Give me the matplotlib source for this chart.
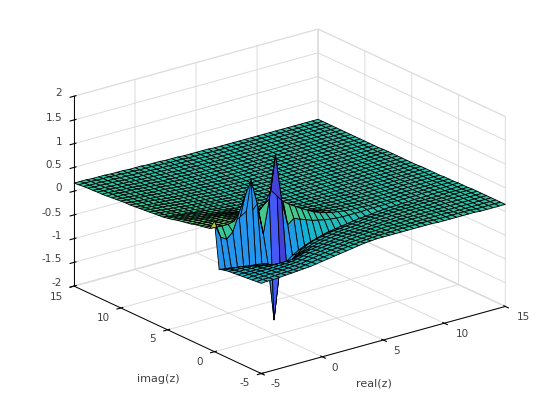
import numpy as np
import matplotlib
matplotlib.use('Agg')
import matplotlib.pyplot as plt
from matplotlib.colors import LinearSegmentedColormap, Normalize

plt.rcParams['axes.unicode_minus'] = False
plt.rcParams['font.family'] = 'DejaVu Sans'

# grid of the surface, step 0.5
x_vals = [-5.0, -4.5, -4.0, -3.5, -3.0, -2.5, -2.0, -1.5, -1.0, -0.5, 0.0, 0.5, 1.0, 1.5, 2.0, 2.5, 3.0, 3.5, 4.0, 4.5, 5.0,
          5.5, 6.0, 6.5, 7.0, 7.5, 8.0, 8.5, 9.0, 9.5, 10.0, 10.5, 11.0, 11.5, 12.0, 12.5, 13.0, 13.5, 14.0, 14.5, 15.0]
y_vals = x_vals

# one row per y value (-5 ... 15)
z_rows = [
    [-.10, -.09, -.09, -.08, -.07, -.06, -.05, -.04, -.03, -.01, .01, .03, .05, .07, .09, .11, .13, .15, .16, .17, .17, .17, .17, .17, .17, .17, .17, .17, .17, .16, .16, .16, .16, .16, .16, .16, .15, .15, .15, .15, .15],
    [-.11, -.10, -.10, -.09, -.08, -.08, -.07, -.06, -.04, -.02, .00, .02, .04, .06, .08, .10, .11, .13, .14, .15, .16, .16, .16, .17, .17, .17, .17, .17, .17, .16, .16, .16, .16, .16, .16, .16, .15, .15, .15, .15, .15],
    [-.12, -.11, -.11, -.10, -.10, -.09, -.08, -.07, -.06, -.04, -.01, .01, .03, .05, .06, .08, .10, .11, .12, .13, .14, .15, .15, .16, .16, .16, .16, .16, .16, .16, .16, .16, .16, .15, .15, .15, .15, .15, .15, .15, .15],
    [-.13, -.12, -.12, -.12, -.11, -.11, -.10, -.09, -.08, -.06, -.03, -.01, .01, .03, .05, .06, .08, .09, .11, .12, .13, .13, .14, .15, .15, .15, .16, .16, .16, .16, .16, .16, .15, .15, .15, .15, .15, .15, .15, .15, .15],
    [-.14, -.13, -.13, -.13, -.13, -.13, -.12, -.12, -.11, -.09, -.06, -.03, -.01, .01, .03, .05, .06, .08, .09, .10, .11, .12, .13, .14, .14, .15, .15, .15, .15, .15, .15, .15, .15, .15, .15, .15, .15, .15, .15, .15, .15],
    [-.15, -.15, -.15, -.15, -.15, -.15, -.15, -.15, -.15, -.14, -.11, -.07, -.04, -.02, .00, .02, .04, .06, .07, .08, .09, .10, .11, .12, .13, .13, .14, .14, .14, .15, .15, .15, .15, .15, .15, .15, .15, .15, .15, .15, .15],
    [-.16, -.16, -.16, -.17, -.17, -.18, -.20, -.22, -.25, -.24, -.20, -.15, -.10, -.06, -.03, .00, .02, .04, .05, .06, .07, .08, .10, .11, .12, .12, .13, .13, .14, .14, .14, .14, .14, .15, .15, .15, .15, .15, .15, .15, .15],
    [-.17, -.18, -.18, -.19, -.20, -.22, -.25, -.29, -.35, -.40, -.33, -.25, -.18, -.12, -.07, -.04, -.01, .01, .03, .04, .05, .06, .08, .09, .10, .11, .12, .12, .13, .13, .13, .14, .14, .14, .14, .14, .14, .15, .15, .15, .15],
    [-.19, -.20, -.21, -.22, -.24, -.27, -.31, -.37, -.45, -.62, -.50, -.38, -.27, -.19, -.12, -.08, -.05, -.02, .00, .01, .03, .04, .05, .07, .08, .09, .10, .11, .11, .12, .12, .12, .13, .13, .13, .13, .14, .14, .14, .14, .14],
    [-.22, -.24, -.26, -.28, -.30, -.32, -.33, -.35, -.38, -1.60, -.50, -.45, -.35, -.28, -.22, -.17, -.13, -.09, -.06, -.04, -.02, .00, .02, .04, .05, .06, .08, .09, .10, .10, .11, .11, .12, .12, .12, .13, .13, .13, .13, .14, .14],
    [.75, .38, .30, .42, .77, 1.10, 1.39, .87, .20, .90, 1.80, .80, .25, .35, .30, .25, .20, .17, .14, .12, .11, .10, .10, .10, .10, .11, .11, .11, .11, .12, .12, .12, .12, .12, .13, .13, .13, .13, .13, .14, .14],
    [.55, .54, .53, .53, .56, .62, .70, .68, .62, .75, 1.00, .85, .70, .60, .52, .44, .37, .30, .25, .21, .18, .16, .14, .13, .12, .12, .11, .11, .11, .11, .11, .12, .12, .12, .12, .12, .13, .13, .13, .13, .13],
    [.53, .52, .51, .50, .50, .52, .55, .55, .55, .58, .65, .62, .56, .50, .45, .39, .33, .28, .23, .20, .17, .15, .14, .13, .12, .12, .11, .11, .11, .11, .11, .11, .12, .12, .12, .12, .12, .12, .13, .13, .13],
    [.51, .50, .49, .48, .48, .48, .48, .48, .48, .48, .50, .48, .45, .41, .37, .33, .28, .24, .20, .17, .15, .14, .13, .12, .12, .11, .11, .11, .11, .11, .11, .11, .11, .12, .12, .12, .12, .12, .12, .12, .13],
    [.49, .48, .47, .46, .45, .45, .44, .44, .43, .43, .42, .40, .38, .34, .31, .27, .23, .20, .17, .15, .14, .13, .12, .12, .11, .11, .11, .11, .11, .11, .11, .11, .11, .11, .12, .12, .12, .12, .12, .12, .12],
    [.46, .45, .44, .43, .43, .42, .41, .40, .39, .38, .37, .35, .32, .29, .26, .23, .20, .18, .16, .14, .13, .12, .12, .11, .11, .11, .11, .11, .11, .11, .11, .11, .11, .11, .11, .12, .12, .12, .12, .12, .12],
    [.44, .43, .42, .41, .40, .39, .38, .36, .35, .33, .31, .28, .26, .23, .21, .19, .17, .15, .14, .13, .12, .12, .11, .11, .11, .11, .10, .10, .11, .11, .11, .11, .11, .11, .11, .11, .12, .12, .12, .12, .12],
    [.42, .41, .40, .38, .37, .36, .34, .33, .31, .29, .27, .24, .22, .20, .18, .17, .15, .14, .13, .12, .11, .11, .11, .11, .10, .10, .10, .10, .10, .11, .11, .11, .11, .11, .11, .11, .11, .11, .12, .12, .12],
    [.40, .39, .37, .36, .34, .33, .31, .29, .27, .25, .23, .21, .19, .17, .16, .15, .14, .13, .12, .11, .11, .11, .10, .10, .10, .10, .10, .10, .10, .10, .11, .11, .11, .11, .11, .11, .11, .11, .11, .12, .12],
    [.37, .36, .35, .33, .32, .30, .28, .26, .24, .23, .21, .19, .17, .16, .15, .14, .13, .12, .11, .11, .10, .10, .10, .10, .10, .10, .10, .10, .10, .10, .10, .11, .11, .11, .11, .11, .11, .11, .11, .11, .11],
    [.35, .34, .33, .31, .30, .28, .26, .24, .23, .21, .19, .17, .16, .15, .14, .13, .12, .11, .11, .10, .10, .10, .10, .10, .10, .10, .10, .10, .10, .10, .10, .10, .11, .11, .11, .11, .11, .11, .11, .11, .11],
    [.33, .31, .30, .28, .27, .25, .24, .22, .21, .19, .18, .17, .15, .14, .13, .12, .12, .11, .10, .10, .10, .10, .10, .10, .10, .10, .10, .10, .10, .10, .10, .10, .10, .11, .11, .11, .11, .11, .11, .11, .11],
    [.32, .30, .29, .27, .26, .24, .23, .21, .20, .19, .17, .16, .15, .14, .13, .12, .11, .11, .10, .10, .10, .10, .10, .10, .10, .10, .10, .10, .10, .10, .10, .10, .10, .10, .11, .11, .11, .11, .11, .11, .11],
    [.31, .29, .28, .26, .25, .24, .22, .21, .20, .18, .17, .16, .15, .14, .13, .12, .11, .11, .10, .10, .10, .10, .10, .10, .10, .10, .10, .10, .10, .10, .10, .10, .10, .10, .10, .11, .11, .11, .11, .11, .11],
    [.30, .28, .27, .25, .24, .23, .21, .20, .19, .18, .16, .15, .14, .13, .13, .12, .11, .11, .10, .10, .10, .10, .10, .10, .10, .10, .10, .10, .10, .10, .10, .10, .10, .10, .10, .10, .11, .11, .11, .11, .11],
    [.29, .27, .26, .25, .24, .22, .21, .20, .19, .17, .16, .15, .14, .13, .12, .12, .11, .11, .10, .10, .10, .10, .10, .10, .10, .10, .10, .10, .10, .10, .10, .10, .10, .10, .10, .10, .10, .10, .11, .11, .11],
    [.28, .26, .25, .24, .23, .21, .20, .19, .18, .17, .16, .15, .14, .13, .12, .12, .11, .11, .10, .10, .10, .10, .10, .10, .10, .10, .10, .10, .10, .10, .10, .10, .10, .10, .10, .10, .10, .10, .10, .10, .11],
    [.27, .25, .24, .23, .22, .21, .20, .19, .18, .17, .16, .15, .14, .13, .12, .12, .11, .11, .10, .10, .10, .10, .10, .10, .10, .10, .10, .10, .10, .10, .10, .10, .10, .10, .10, .10, .10, .10, .10, .10, .10],
    [.26, .25, .24, .23, .22, .20, .19, .18, .17, .16, .15, .15, .14, .13, .12, .12, .11, .11, .10, .10, .10, .10, .10, .10, .10, .10, .10, .10, .10, .10, .10, .10, .10, .10, .10, .10, .10, .10, .10, .10, .10],
    [.26, .24, .23, .22, .21, .20, .19, .18, .17, .16, .15, .14, .14, .13, .12, .12, .11, .11, .10, .10, .10, .10, .10, .10, .10, .10, .10, .10, .10, .10, .10, .10, .10, .10, .10, .10, .10, .10, .10, .10, .10],
    [.25, .24, .23, .22, .21, .20, .19, .18, .17, .16, .15, .14, .13, .13, .12, .12, .11, .11, .10, .10, .10, .10, .10, .10, .10, .10, .10, .10, .10, .10, .10, .10, .10, .10, .10, .10, .10, .10, .10, .10, .10],
    [.24, .23, .22, .21, .20, .19, .18, .18, .17, .16, .15, .14, .13, .13, .12, .12, .11, .11, .10, .10, .10, .10, .10, .10, .10, .10, .10, .10, .10, .10, .10, .10, .10, .10, .10, .10, .10, .10, .10, .10, .10],
    [.23, .22, .22, .21, .20, .19, .18, .17, .17, .16, .15, .14, .13, .13, .12, .12, .11, .11, .11, .10, .10, .10, .10, .10, .10, .10, .10, .10, .10, .10, .10, .10, .10, .10, .10, .10, .10, .10, .10, .10, .10],
    [.22, .22, .21, .20, .20, .19, .18, .17, .16, .15, .15, .14, .13, .13, .12, .12, .11, .11, .11, .10, .10, .10, .10, .10, .10, .10, .10, .10, .10, .10, .10, .10, .10, .10, .10, .10, .10, .10, .10, .10, .10],
    [.21, .21, .20, .19, .19, .18, .17, .16, .16, .15, .14, .14, .13, .13, .12, .12, .11, .11, .11, .10, .10, .10, .10, .10, .10, .10, .10, .10, .10, .10, .10, .10, .10, .10, .10, .10, .10, .10, .10, .10, .10],
    [.21, .20, .20, .19, .18, .18, .17, .16, .16, .15, .14, .14, .13, .13, .12, .12, .12, .11, .11, .11, .10, .10, .10, .10, .10, .10, .10, .10, .10, .10, .10, .10, .10, .10, .10, .10, .10, .10, .10, .10, .10],
    [.20, .19, .19, .18, .18, .17, .17, .16, .15, .15, .14, .14, .13, .13, .12, .12, .12, .11, .11, .11, .10, .10, .10, .10, .10, .10, .10, .10, .10, .10, .10, .10, .10, .10, .10, .10, .10, .10, .10, .10, .10],
    [.20, .19, .19, .18, .18, .17, .16, .16, .15, .15, .14, .14, .13, .13, .13, .12, .12, .11, .11, .11, .11, .10, .10, .10, .10, .10, .10, .10, .10, .10, .10, .10, .10, .10, .10, .10, .10, .10, .10, .10, .10],
    [.19, .18, .18, .18, .17, .17, .16, .16, .15, .15, .14, .14, .13, .13, .13, .12, .12, .12, .11, .11, .11, .10, .10, .10, .10, .10, .10, .10, .10, .10, .10, .10, .10, .10, .10, .10, .10, .10, .10, .10, .10],
    [.18, .18, .18, .17, .17, .17, .16, .16, .15, .15, .14, .14, .14, .13, .13, .12, .12, .12, .11, .11, .11, .11, .10, .10, .10, .10, .10, .10, .10, .10, .10, .10, .10, .10, .10, .10, .10, .10, .10, .10, .10],
    [.17, .17, .17, .16, .16, .16, .15, .15, .15, .14, .14, .14, .13, .13, .13, .12, .12, .12, .11, .11, .11, .11, .11, .10, .10, .10, .10, .10, .10, .10, .10, .10, .10, .10, .10, .10, .10, .10, .10, .10, .10],
]

# colour values of the wall faces at y = -0.5 (blue blades), x = -5 ... 2
wall_shade = [-.68, -.68, -.68, -.68, -.68, -.68, -.68, -.68, -.68, -1.35, -1.65, -.70, -.55, -.45, -.30]
# colour values of the faces behind the ridge at y = 0, x = -5 ... 1
ridge_shade = [.95, .30, .25, .30, -.68, -.68, -.68, -.68, .35, -1.35, -1.65, -.68, .40]

tick_vals = [-5, 0, 5, 10, 15]
z_ticks = [-2, -1.5, -1, -0.5, 0, 0.5, 1, 1.5, 2]
z_labels = ['-2', '-1.5', '-1', '-0.5', '0', '0.5', '1', '1.5', '2']

parula = LinearSegmentedColormap.from_list('parula', [
    (0.2422, 0.1504, 0.6603), (0.2810, 0.3228, 0.9579), (0.1786, 0.5289, 0.9682),
    (0.0689, 0.6948, 0.8394), (0.2161, 0.7843, 0.5923), (0.6720, 0.7793, 0.2227),
    (0.9970, 0.7659, 0.2199), (0.9769, 0.9839, 0.0805)])

X, Y = np.meshgrid(x_vals, y_vals)
Z = np.array(z_rows)
C = Z.copy()
C[9, :len(wall_shade)] = wall_shade
C[10, :len(ridge_shade)] = ridge_shade
colors = parula(Normalize(-2, 2)(C))

fig = plt.figure(figsize=(5.6, 4.2), dpi=100)
ax = fig.add_axes([4 / 560, 3 / 420, 1, 1], projection='3d')
ax.set_proj_type('ortho')
ax.view_init(elev=21, azim=-127.5)
ax.set_box_aspect((307, 307, 203), zoom=1.11)

surf = ax.plot_surface(X, Y, Z, facecolors=colors, rstride=1, cstride=1, shade=False,
                       edgecolor='k', linewidth=0.6, antialiased=True)
surf.set_clip_on(False)

ax.set_xlim(-5, 15, view_margin=0)
ax.set_ylim(-5, 15, view_margin=0)
ax.set_zlim(-2, 2, view_margin=0)
ax.set_xticks(tick_vals)
ax.set_yticks(tick_vals)
ax.set_zticks(z_ticks)
# Axis3D resets tick label transforms on draw, so the labels are placed by hand below
ax.set_xticklabels([])
ax.set_yticklabels([])
ax.set_zticklabels([])

for axis in (ax.xaxis, ax.yaxis, ax.zaxis):
    axis.pane.set_facecolor((1, 1, 1, 0))
    axis.pane.set_edgecolor('#dcdcdc')
    axis._axinfo['grid'].update(color='#dcdcdc', linewidth=0.7)
    axis.line.set_color('k')
    axis.line.set_linewidth(0.7)


def label(px, py, s, size=7.5, ha='center'):
    # px, py in image pixels from the top left
    fig.text(px / 560, 1 - py / 420, s, fontsize=size, color='#404040', ha=ha, va='center')


for t, px, py in zip(tick_vals, [276, 335, 397, 462, 523], [384, 368, 351, 334, 317]):
    label(px, py, str(t))
for t, px, py in zip(tick_vals, [245, 200, 153, 103, 56], [383, 362, 339, 318, 297]):
    label(px, py, str(t))
for s, py in zip(z_labels, [283, 259, 236, 213, 188, 165, 142, 118, 93]):
    label(62, py, s, ha='right')
label(374, 384, 'real(z)', size=8)
label(158, 379, 'imag(z)', size=8)

fig.savefig('out.png', dpi=100)
